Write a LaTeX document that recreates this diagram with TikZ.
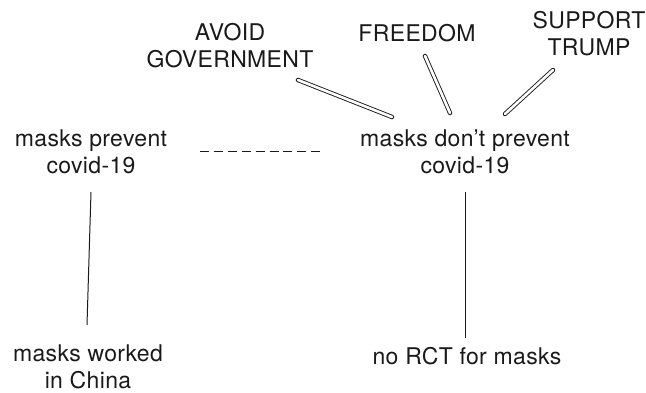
\documentclass[tikz,border=0pt]{standalone}
\usepackage{fontspec}
\setmainfont{TeX Gyre Heros}[LetterSpace=1.5]
\usetikzlibrary{calc}
\definecolor{ink}{HTML}{1A1A1A}
\tikzset{
  label/.style={anchor=north, inner sep=0pt, align=center, text=ink,
    font=\fontsize{23}{27}\selectfont},
  support/.style={draw=ink, line width=0.9pt, double=white,
    double distance=2.6pt, line cap=round},
  rival/.style={draw=ink, line width=1pt, dash pattern=on 9pt off 4.9pt},
  reason/.style={draw=ink, line width=1pt}
}
\begin{document}
\begin{tikzpicture}[x=1pt, y=-1pt]
  \useasboundingbox (0,0) rectangle (646,393);

  % claims
  \node[label] (pro)  at (91,130)  {masks prevent\\covid-19};
  \node[label] (con)  at (465,130) {masks don’t prevent\\covid-19};

  % motives behind the opposing claim
  \node[label] (gov)  at (230,23)  {AVOID\\GOVERNMENT};
  \node[label] (free) at (417,24)  {FREEDOM};
  \node[label] (trump) at (589,11) {SUPPORT\\TRUMP};

  % evidence
  \node[label] (china) at (88,345) {masks worked\\in China};
  \node[label] (rct)   at (467,347) {no RCT for masks};

  % links
  \draw[support] ($(gov.north)+(68,57)$)   -- ($(con.north)+(-73,-13)$);
  \draw[support] ($(free.north)+(8,32)$)   -- ($(con.north)+(-15,-17)$);
  \draw[support] ($(trump.north)+(-36,59)$) -- ($(con.north)+(40,-16)$);

  \draw[rival] ($(pro.north)+(109,22)$) -- ($(con.north)+(-145,22)$);

  \draw[reason] ($(pro.north)+(0,62)$) -- ($(china.north)+(-1,-20)$);
  \draw[reason] ($(con.north)+(0,62)$) -- ($(rct.north)+(-2,-9)$);
\end{tikzpicture}
\end{document}
